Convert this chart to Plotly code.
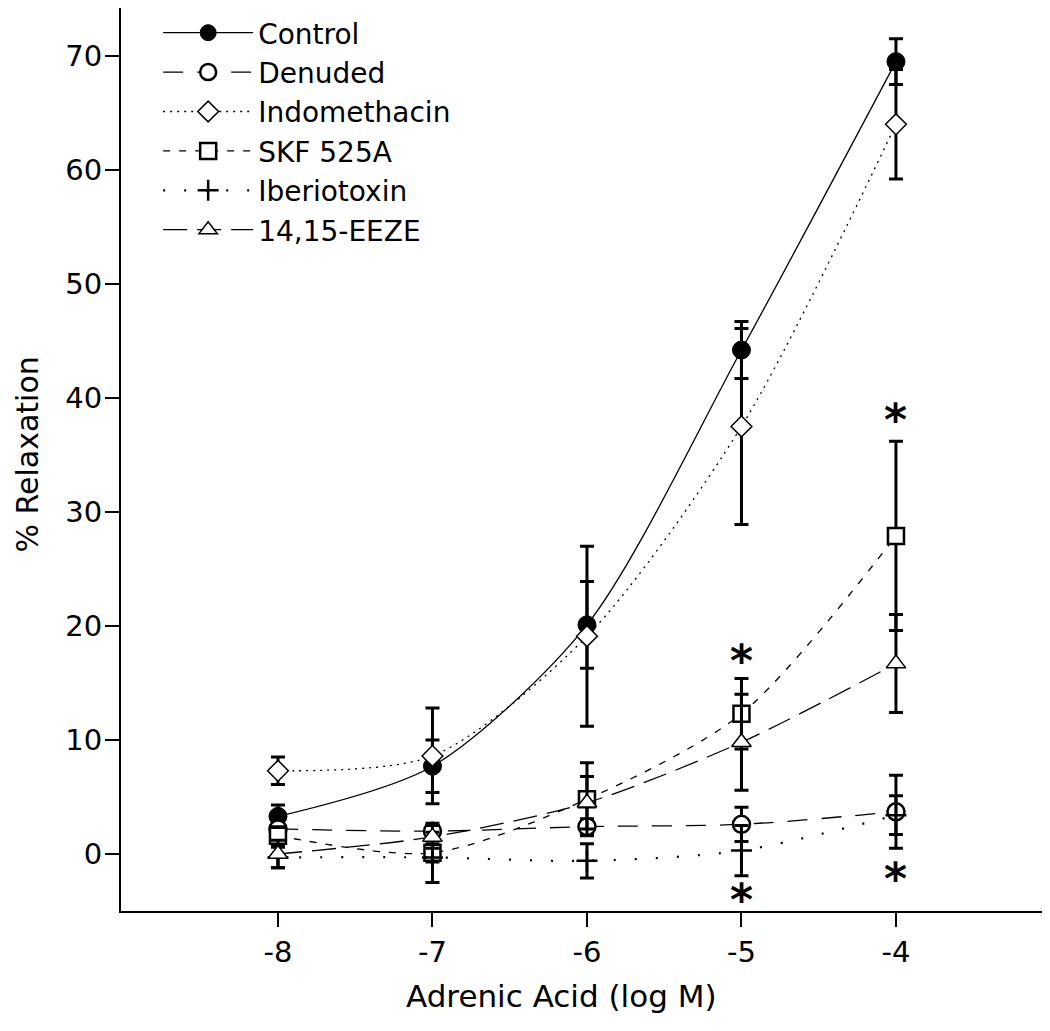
import plotly.graph_objects as go

# ---------------- data ----------------
log_conc = [-8, -7, -6, -5, -4]

control = [3.3, 7.7, 20.1, 44.2, 69.5]
control_err = [1.0, 2.3, 3.8, 2.5, 2.0]

denuded = [2.2, 2.0, 2.4, 2.6, 3.7]
denuded_err = [0.6, 0.7, 0.7, 1.5, 3.2]

indomethacin = [7.3, 8.6, 19.1, 37.5, 64.0]
indomethacin_err = [1.2, 4.2, 7.9, 8.6, 4.8]

skf525a = [1.6, 0.1, 4.8, 12.3, 27.9]
skf525a_err = [0.8, 0.8, 3.2, 3.1, 8.3]

iberiotoxin = [-0.3, -0.3, -0.6, 0.3, 3.4]
iberiotoxin_err = [0.9, 2.2, 1.5, 2.2, 1.7]

eeze = [0.0, 1.5, 4.5, 9.8, 16.7]
eeze_err = [1.2, 1.0, 2.3, 4.2, 4.3]

# significance asterisks (x, y)
star_x = [-5, -5, -4, -4]
star_y = [17.3, -3.6, 38.5, -1.8]

x_ticks = [-8, -7, -6, -5, -4]
y_ticks = [0, 10, 20, 30, 40, 50, 60, 70]

FONT = "DejaVu Sans"

series = [
    dict(name="Control", y=control, e=control_err, dash="solid", lw=1.3,
         symbol="circle", size=18, fill="black", mlw=1),
    dict(name="Denuded", y=denuded, e=denuded_err, dash="20px,14px", lw=1.3,
         symbol="circle", size=17, fill="white", mlw=2.5),
    dict(name="Indomethacin", y=indomethacin, e=indomethacin_err, dash="2px,5px", lw=1.3,
         symbol="diamond", size=16, fill="white", mlw=1.5),
    dict(name="SKF 525A", y=skf525a, e=skf525a_err, dash="7px,9px", lw=1.3,
         symbol="square", size=16, fill="white", mlw=2.5),
    dict(name="Iberiotoxin", y=iberiotoxin, e=iberiotoxin_err, dash="2px,19px", lw=2.2,
         symbol="cross-thin", size=15, fill="black", mlw=2.5),
    dict(name="14,15-EEZE", y=eeze, e=eeze_err, dash="24px,10px", lw=1.3,
         symbol="triangle-up", size=17, fill="white", mlw=1.5),
]

fig = go.Figure()
for s in series:
    fig.add_trace(go.Scatter(
        x=log_conc, y=s["y"], name=s["name"], mode="lines+markers",
        line=dict(color="black", width=s["lw"], dash=s["dash"], shape="spline", smoothing=0.8),
        marker=dict(symbol=s["symbol"], size=s["size"], color=s["fill"],
                    line=dict(color="black", width=s["mlw"])),
        error_y=dict(type="data", array=s["e"], visible=True, color="black",
                     thickness=3, width=7),
    ))

for sx, sy in zip(star_x, star_y):
    fig.add_annotation(x=sx, y=sy, xref="x", yref="y", text="<b>*</b>", showarrow=False,
                       font=dict(family=FONT, size=44, color="black"), yshift=-4)

fig.add_annotation(text="Adrenic Acid (log M)", xref="paper", yref="paper",
                   x=0.474, y=-0.094, showarrow=False, xanchor="center", yanchor="middle",
                   font=dict(family=FONT, size=31, color="black"))
fig.add_annotation(text="% Relaxation", xref="paper", yref="paper",
                   x=-0.1216, y=0.505, showarrow=False, xanchor="left", yanchor="middle",
                   textangle=-90, font=dict(family=FONT, size=30, color="black"))

fig.update_layout(
    width=1050, height=1031,
    margin=dict(l=113, r=8, t=0, b=128),
    plot_bgcolor="white", paper_bgcolor="white",
    font=dict(family=FONT, color="black"),
    showlegend=True,
    legend=dict(x=0.040, y=1.0, xanchor="left", yanchor="top",
                bgcolor="rgba(0,0,0,0)", font=dict(family=FONT, size=28, color="black"),
                itemwidth=90, tracegroupgap=0),
)
fig.update_xaxes(range=[-9.016, -3.003], tickvals=x_ticks, ticktext=[str(v) for v in x_ticks],
                 showgrid=False, zeroline=False, showline=True, linecolor="black", linewidth=2,
                 ticks="outside", ticklen=14, tickwidth=2, tickcolor="black",
                 tickfont=dict(family=FONT, size=29, color="black"))
fig.update_yaxes(range=[-5.0, 74.2], tickvals=y_ticks,
                 showgrid=False, zeroline=False, showline=True, linecolor="black", linewidth=2,
                 ticks="outside", ticklen=14, tickwidth=2, tickcolor="black",
                 ticklabelstandoff=-3,
                 tickfont=dict(family=FONT, size=29, color="black"))

fig.write_html("out.html")
